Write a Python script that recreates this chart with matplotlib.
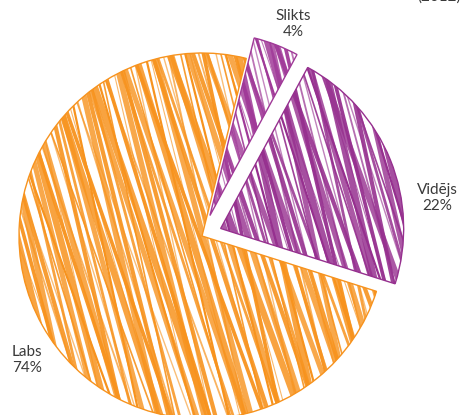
import numpy as np
import matplotlib.pyplot as plt

plt.rcParams['font.family'] = ['Lato', 'DejaVu Sans']

labels = ['Labs', 'Vidējs', 'Slikts']
values = [74, 22, 4]
pct_labels = ['74%', '22%', '4%']
colors = ['#f7931e', '#96308f', '#a03a98']
explode = [0, 0.11, 0.12]
year = '(2012)'

fig = plt.figure(figsize=(4.63, 4.15), dpi=100)
ax = fig.add_axes([0, 0, 1, 1])

wedges, _ = ax.pie(values, colors=['white'] * 3, startangle=76,
                   explode=explode, radius=1,
                   wedgeprops=dict(linewidth=1.0))
for w, c in zip(wedges, colors):
    w.set_edgecolor(c)

# hand-drawn look: steep strokes of uneven width, clipped to each wedge
angs = [-74, -71, -77, -73, -76, -70, -75, -78, -72]
lws = [1.2, 3.6, 1.6, 4.6, 0.8, 2.6, 4.0, 1.3, 3.0, 1.0, 2.0]
alphas = [0.9, 0.8, 1.0, 0.85, 0.65, 0.95, 0.8, 0.7, 0.9, 0.6, 0.85]
n = np.array([-np.sin(np.deg2rad(-74)), np.cos(np.deg2rad(-74))])
for w, c in zip(wedges, colors):
    for i, s in enumerate(np.arange(-2.2, 2.2, 0.021)):
        a = np.deg2rad(angs[i % len(angs)])
        d = np.array([np.cos(a), np.sin(a)])
        p0 = s * n
        p1 = p0 - 2.5 * d
        p2 = p0 + 2.5 * d
        ln, = ax.plot([p1[0], p2[0]], [p1[1], p2[1]], color=c,
                      lw=lws[i % len(lws)], alpha=alphas[i % len(alphas)],
                      solid_capstyle='round')
        ln.set_clip_path(w)

ax.set_aspect('equal')
ax.set_xlim(-202 / 183, (463 - 202) / 183)
ax.set_ylim((236 - 415) / 183, 236 / 183)
ax.axis('off')

txt = dict(ha='center', va='center', fontsize=11, color='#3a3a3a',
           linespacing=1.15)
ax.text((27 - 202) / 183, (236 - 360) / 183,
        labels[0] + '\n' + pct_labels[0], **txt)
ax.text((437 - 202) / 183, (236 - 198) / 183,
        labels[1] + '\n' + pct_labels[1], **txt)
ax.text((293 - 202) / 183, (236 - 24) / 183,
        labels[2] + '\n' + pct_labels[2], **txt)

fig.text(0.995, 1 - 1 / 415, year, ha='right', va='baseline',
         fontsize=11, color='#3a3a3a')

fig.savefig('out.png', dpi=100)
